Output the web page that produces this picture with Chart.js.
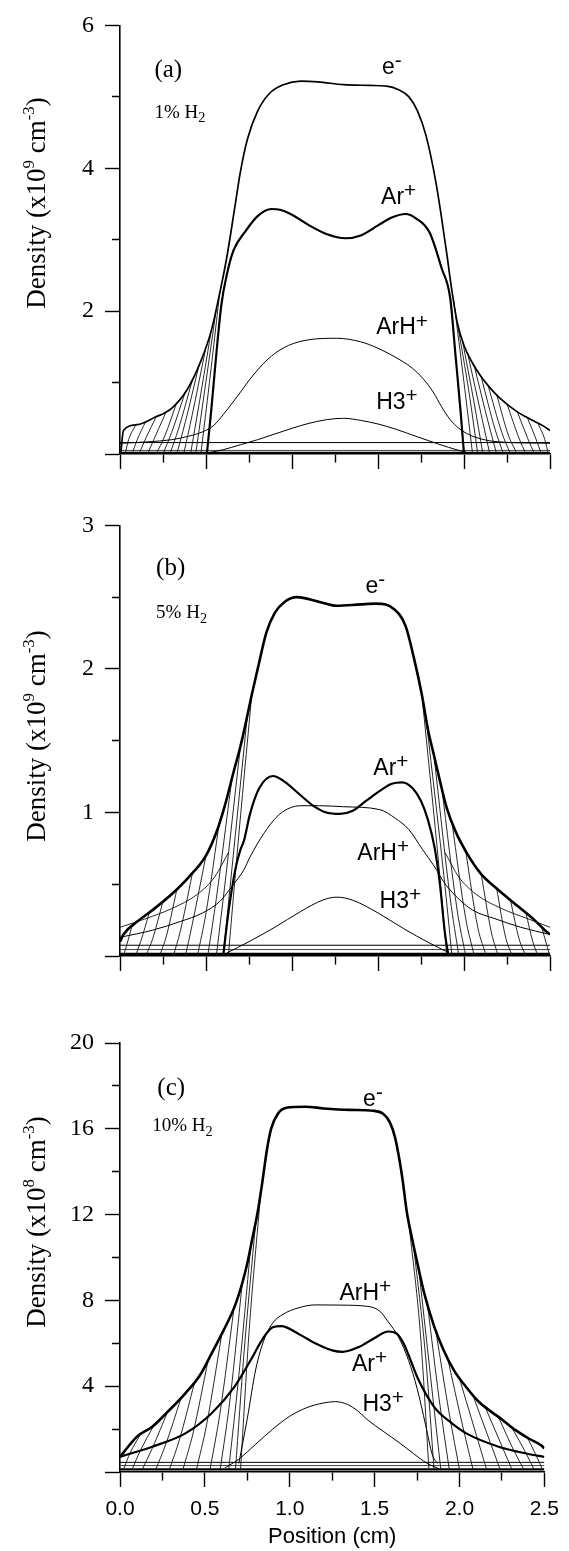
<!DOCTYPE html>
<html>
<head>
<meta charset="utf-8">
<script src="https://cdn.jsdelivr.net/npm/chart.js@4.4.1/dist/chart.umd.min.js"></script>
<style>
  html, body { margin:0; padding:0; background:#fff; }
  body { width:569px; height:1551px; position:relative; overflow:hidden; }
  .panel { position:absolute; left:0; width:569px; }
  canvas { display:block; }
</style>
</head>
<body>
<div class="panel" style="top:0;height:500px"><canvas id="chartA" width="569" height="500"></canvas></div>
<div class="panel" style="top:500px;height:510px"><canvas id="chartB" width="569" height="510"></canvas></div>
<div class="panel" style="top:1010px;height:541px"><canvas id="chartC" width="569" height="541"></canvas></div>
<script>
// ---- axis ticks ----
const xTicks = [0, 0.25, 0.5, 0.75, 1, 1.25, 1.5, 1.75, 2, 2.25, 2.5]
const xTickLabelsC = ['0.0', '', '0.5', '', '1.0', '', '1.5', '', '2.0', '', '2.5']
const xTickLabelsBlank = ['', '', '', '', '', '', '', '', '', '', '']

const yTicksA = [0, 1, 2, 3, 4, 5, 6]
const yTickLabelsA = ['', '', '2', '', '4', '', '6']
const yTicksB = [0, 0.5, 1, 1.5, 2, 2.5, 3]
const yTickLabelsB = ['', '', '1', '', '2', '', '3']
const yTicksC = [0, 2, 4, 6, 8, 10, 12, 14, 16, 18, 20]
const yTickLabelsC = ['', '', '4', '', '8', '', '12', '', '16', '', '20']

// ---- (a) 1% H2, density x1e9 cm^-3, points are [position cm, density] ----
const electronA = [[0.005,0.02],[0.02,0.33],[0.1,0.41],[0.2,0.51],[0.3,0.64],[0.39,0.9],[0.47,1.3],[0.53,1.72],[0.57,2.14],[0.62,2.74],[0.666,3.43],[0.7,3.95],[0.74,4.4],[0.8,4.8],[0.87,5.05],[0.95,5.17],[1.05,5.22],[1.15,5.21],[1.3,5.17],[1.45,5.16],[1.55,5.15],[1.62,5.1],[1.68,5.0],[1.73,4.8],[1.78,4.45],[1.837,3.8],[1.87,3.3],[1.9,2.8],[1.93,2.28],[1.96,1.85],[2.0,1.52],[2.05,1.27],[2.1,1.08],[2.15,0.93],[2.21,0.78],[2.31,0.59],[2.4,0.47],[2.47,0.38],[2.5,0.33]]
const arPlusA = [[0.505,0.0],[0.53,0.6],[0.56,1.4],[0.59,2.1],[0.62,2.5],[0.66,2.85],[0.73,3.12],[0.8,3.33],[0.88,3.43],[0.93,3.42],[1.0,3.35],[1.1,3.2],[1.2,3.08],[1.31,3.02],[1.4,3.06],[1.5,3.2],[1.58,3.31],[1.66,3.36],[1.72,3.3],[1.8,3.1],[1.87,2.6],[1.92,2.18],[1.95,1.4],[1.98,0.6],[2.0,0.0]]
const arhPlusA = [[0.0,0.15],[0.16,0.17],[0.3,0.2],[0.4,0.25],[0.48,0.31],[0.545,0.4],[0.6,0.55],[0.68,0.8],[0.78,1.12],[0.88,1.37],[0.98,1.52],[1.1,1.6],[1.26,1.62],[1.4,1.57],[1.5,1.48],[1.64,1.3],[1.7,1.2],[1.76,1.06],[1.82,0.87],[1.87,0.66],[1.92,0.48],[1.97,0.36],[2.03,0.27],[2.1,0.21],[2.2,0.17],[2.5,0.15]]
const h3PlusA = [[0.52,0.02],[0.6,0.06],[0.7,0.13],[0.8,0.2],[0.9,0.28],[1.0,0.36],[1.1,0.43],[1.2,0.48],[1.3,0.5],[1.4,0.47],[1.5,0.42],[1.6,0.35],[1.73,0.24],[1.85,0.14],[1.97,0.05],[2.02,0.02]]
const flatA = [[[0,0.16],[2.5,0.16]], [[0,0.05],[2.5,0.05]], [[0,0.015],[2.5,0.015]]]
const fanLeftA = [
  [[0.03,0],[0.05,0.2],[0.09,0.4]],
  [[0.07,0],[0.1,0.2],[0.15,0.46]],
  [[0.11,0],[0.15,0.22],[0.21,0.52]],
  [[0.16,0],[0.2,0.22],[0.27,0.6]],
  [[0.21,0],[0.26,0.25],[0.33,0.72]],
  [[0.25,0],[0.3,0.3],[0.38,0.87]],
  [[0.29,0],[0.34,0.35],[0.42,1.03]],
  [[0.33,0],[0.38,0.45],[0.46,1.25]],
  [[0.37,0],[0.42,0.55],[0.5,1.5]],
  [[0.41,0],[0.46,0.7],[0.53,1.72]],
  [[0.44,0],[0.49,0.85],[0.56,2.03]],
  [[0.47,0],[0.52,1.0],[0.58,2.26]]
]
const fanRightA = [
  [[1.94,2.15],[2.0,1.0],[2.05,0]],
  [[1.96,1.85],[2.03,0.85],[2.08,0]],
  [[1.99,1.6],[2.06,0.7],[2.11,0]],
  [[2.02,1.42],[2.1,0.55],[2.15,0]],
  [[2.06,1.23],[2.14,0.45],[2.19,0]],
  [[2.1,1.08],[2.18,0.35],[2.23,0]],
  [[2.14,0.96],[2.22,0.3],[2.27,0]],
  [[2.19,0.83],[2.26,0.25],[2.31,0]],
  [[2.25,0.7],[2.32,0.22],[2.36,0]],
  [[2.31,0.59],[2.37,0.22],[2.41,0]],
  [[2.37,0.5],[2.42,0.2],[2.45,0]],
  [[2.43,0.43],[2.47,0.2],[2.49,0]]
]

// ---- (b) 5% H2, density x1e9 cm^-3 ----
const electronB = [[0.0,0.1],[0.02,0.15],[0.1,0.24],[0.2,0.33],[0.3,0.43],[0.4,0.55],[0.5,0.7],[0.56,0.86],[0.61,1.05],[0.66,1.28],[0.7,1.46],[0.727,1.6],[0.766,1.82],[0.81,2.05],[0.85,2.25],[0.9,2.39],[0.96,2.47],[1.03,2.5],[1.15,2.47],[1.26,2.44],[1.4,2.45],[1.49,2.455],[1.59,2.42],[1.66,2.3],[1.71,2.07],[1.755,1.82],[1.79,1.58],[1.825,1.4],[1.86,1.22],[1.9,1.03],[1.95,0.87],[2.02,0.71],[2.1,0.57],[2.2,0.46],[2.29,0.37],[2.41,0.25],[2.47,0.18],[2.5,0.15]]
const arPlusB = [[0.6,0.0],[0.63,0.3],[0.67,0.6],[0.7,0.74],[0.72,0.8],[0.756,0.99],[0.81,1.17],[0.89,1.254],[0.95,1.22],[1.05,1.12],[1.12,1.05],[1.2,1.0],[1.28,0.99],[1.35,1.01],[1.43,1.08],[1.51,1.15],[1.58,1.2],[1.64,1.21],[1.7,1.17],[1.75,1.08],[1.79,0.95],[1.83,0.75],[1.86,0.5],[1.89,0.15],[1.91,0.0]]
const arhPlusB = [[0.0,0.13],[0.19,0.18],[0.35,0.24],[0.48,0.3],[0.58,0.38],[0.66,0.5],[0.72,0.6],[0.756,0.69],[0.84,0.86],[0.93,0.99],[1.05,1.047],[1.16,1.047],[1.3,1.04],[1.51,1.02],[1.6,0.96],[1.68,0.88],[1.76,0.74],[1.83,0.62],[1.88,0.52],[1.95,0.42],[2.05,0.32],[2.18,0.26],[2.33,0.2],[2.5,0.15]]
const h3PlusB = [[0.62,0.02],[0.75,0.1],[0.9,0.2],[1.05,0.31],[1.18,0.39],[1.26,0.41],[1.35,0.39],[1.5,0.3],[1.65,0.19],[1.8,0.09],[1.9,0.03]]
const tailB = [
  [[0.0,0.2],[0.15,0.26],[0.3,0.33],[0.45,0.43],[0.55,0.55],[0.63,0.72]],
  [[1.89,0.72],[1.97,0.55],[2.07,0.43],[2.22,0.33],[2.37,0.26],[2.5,0.2]]
]
const flatB = [[[0,0.075],[2.5,0.075]], [[0,0.045],[2.5,0.045]], [[0,0.015],[2.5,0.015]]]
const fanLeftB = [
  [[0.02,0],[0.04,0.08],[0.07,0.21]],
  [[0.09,0],[0.12,0.1],[0.17,0.3]],
  [[0.15,0],[0.19,0.12],[0.25,0.38]],
  [[0.23,0],[0.27,0.14],[0.33,0.46]],
  [[0.31,0],[0.35,0.17],[0.42,0.57]],
  [[0.38,0],[0.42,0.22],[0.5,0.7]],
  [[0.45,0],[0.5,0.3],[0.58,0.95]],
  [[0.51,0],[0.56,0.4],[0.65,1.23]],
  [[0.56,0],[0.61,0.5],[0.7,1.46]],
  [[0.6,0],[0.65,0.6],[0.74,1.67]],
  [[0.63,0],[0.68,0.7],[0.766,1.82]]
]
const fanRightB = [
  [[1.755,1.82],[1.86,0.55],[1.9,0]],
  [[1.78,1.65],[1.89,0.48],[1.93,0]],
  [[1.825,1.4],[1.92,0.4],[1.97,0]],
  [[1.87,1.18],[1.96,0.32],[2.01,0]],
  [[1.93,0.93],[2.01,0.26],[2.06,0]],
  [[2.01,0.73],[2.08,0.2],[2.13,0]],
  [[2.1,0.57],[2.16,0.16],[2.2,0]],
  [[2.19,0.47],[2.24,0.14],[2.28,0]],
  [[2.27,0.39],[2.32,0.12],[2.36,0]],
  [[2.36,0.3],[2.4,0.1],[2.43,0]],
  [[2.45,0.21],[2.48,0.08],[2.5,0]]
]

// ---- (c) 10% H2, density x1e8 cm^-3 ----
const electronC = [[0.0,0.7],[0.05,1.2],[0.1,1.65],[0.19,2.11],[0.28,2.8],[0.385,3.67],[0.47,4.5],[0.54,5.53],[0.61,6.6],[0.675,7.71],[0.72,8.8],[0.75,9.73],[0.78,10.9],[0.81,12.07],[0.84,13.6],[0.865,15.0],[0.89,16.0],[0.93,16.7],[0.98,16.98],[1.09,17.03],[1.2,16.95],[1.35,16.88],[1.49,16.84],[1.55,16.7],[1.59,16.3],[1.62,15.6],[1.645,14.6],[1.665,13.6],[1.69,12.1],[1.72,10.9],[1.75,9.8],[1.79,8.4],[1.85,6.8],[1.905,5.7],[1.97,4.7],[2.04,3.95],[2.11,3.3],[2.18,2.85],[2.25,2.45],[2.33,1.95],[2.41,1.55],[2.48,1.25],[2.5,1.1]]
const arPlusC = [[0.0,0.71],[0.19,1.18],[0.385,1.8],[0.54,2.74],[0.675,3.98],[0.77,5.22],[0.84,6.2],[0.9,6.75],[0.95,6.8],[1.05,6.45],[1.15,6.0],[1.25,5.67],[1.31,5.6],[1.4,5.8],[1.5,6.25],[1.58,6.55],[1.63,6.45],[1.67,6.0],[1.71,5.25],[1.75,4.44],[1.85,3.04],[1.95,2.3],[2.04,1.8],[2.23,1.18],[2.4,0.85],[2.5,0.7]]
const arhPlusC = [[0.7,0.4],[0.75,2.5],[0.8,4.8],[0.85,6.2],[0.9,6.95],[0.96,7.35],[1.05,7.65],[1.15,7.79],[1.3,7.78],[1.46,7.72],[1.53,7.5],[1.58,7.0],[1.64,6.3],[1.7,5.2],[1.75,3.9],[1.8,2.2],[1.84,0.8],[1.87,0.4]]
const h3PlusC = [[0.62,0.2],[0.7,0.6],[0.8,1.3],[0.9,2.0],[1.0,2.6],[1.1,3.0],[1.2,3.22],[1.27,3.28],[1.34,3.15],[1.4,2.85],[1.46,2.42],[1.55,1.9],[1.65,1.34],[1.73,0.85],[1.81,0.4],[1.88,0.15]]
const flatC = [[[0,0.45],[2.5,0.45]], [[0,0.3],[2.5,0.3]], [[0,0.12],[2.5,0.12]]]
const fanLeftC = [
  [[0.02,0.1],[0.06,0.9],[0.12,1.75]],
  [[0.07,0.1],[0.12,1.0],[0.2,2.18]],
  [[0.13,0.1],[0.19,1.1],[0.28,2.8]],
  [[0.21,0.1],[0.27,1.3],[0.36,3.45]],
  [[0.29,0.1],[0.35,1.5],[0.44,4.2]],
  [[0.37,0.1],[0.43,1.8],[0.52,5.25]],
  [[0.45,0.1],[0.51,2.2],[0.6,6.45]],
  [[0.53,0.1],[0.59,2.8],[0.67,7.55]],
  [[0.59,0.1],[0.65,3.5],[0.72,8.8]],
  [[0.64,0.1],[0.7,4.5],[0.77,10.5]],
  [[0.68,0.1],[0.73,5.5],[0.8,11.7]],
  [[0.71,0.1],[0.76,6.5],[0.83,13.1]]
]
const fanRightC = [
  [[1.7,11.7],[1.77,6.4],[1.82,0.1]],
  [[1.73,10.5],[1.8,5.4],[1.85,0.1]],
  [[1.76,9.45],[1.83,4.4],[1.89,0.1]],
  [[1.81,7.9],[1.88,3.4],[1.94,0.1]],
  [[1.86,6.6],[1.94,2.7],[2.0,0.1]],
  [[1.93,5.3],[2.02,2.1],[2.08,0.1]],
  [[2.0,4.35],[2.1,1.7],[2.16,0.1]],
  [[2.08,3.55],[2.18,1.4],[2.24,0.1]],
  [[2.15,3.05],[2.25,1.2],[2.31,0.1]],
  [[2.23,2.55],[2.32,1.0],[2.38,0.1]],
  [[2.31,2.05],[2.39,0.9],[2.44,0.1]],
  [[2.4,1.6],[2.45,0.8],[2.49,0.1]]
]

// ---- labels: [text, position, density, style] ----
const notesA = [['(a)', 0.2, 5.4, 'tag'], ['1% H_2', 0.2, 4.8, 'gas'], ['e^-', 1.58, 5.44, 'ion'], ['Ar^+', 1.62, 3.62, 'ion'], ['ArH^+', 1.64, 1.79, 'ion'], ['H3^+', 1.61, 0.75, 'ion']]
const notesB = [['(b)', 0.21, 2.72, 'tag'], ['5% H_2', 0.21, 2.4, 'gas'], ['e^-', 1.485, 2.59, 'ion'], ['Ar^+', 1.575, 1.32, 'ion'], ['ArH^+', 1.53, 0.73, 'ion'], ['H3^+', 1.63, 0.39, 'ion']]
const notesC = [['(c)', 0.22, 18.0, 'tag'], ['10% H_2', 0.19, 16.2, 'gas'], ['e^-', 1.49, 17.44, 'ion'], ['ArH^+', 1.445, 8.4, 'ion'], ['Ar^+', 1.47, 5.1, 'ion'], ['H3^+', 1.55, 3.25, 'ion']]

const SERIF = '"Liberation Serif", "DejaVu Serif", serif'
const SANS = '"Liberation Sans", Arial, sans-serif'
const TEXT_STYLES = {
  axis: {size: 27, family: SERIF, supScale: 0.62, supRise: 0.42},
  tag:  {size: 25, family: SERIF},
  gas:  {size: 19, family: SERIF, subScale: 0.75, subDrop: 0.22},
  ion:  {size: 23, family: SANS, supScale: 0.9, supRise: 0.3}
}

function parseRich(str){
  const parts = []
  let i = 0
  while(i < str.length){
    const c = str[i]
    if(c === '^' || c === '_'){
      let t
      if(str[i+1] === '{'){ const j = str.indexOf('}', i); t = str.slice(i+2, j); i = j + 1 }
      else { t = str[i+1]; i += 2 }
      parts.push({t: t, mode: c === '^' ? 'sup' : 'sub'})
    } else {
      let j = i
      while(j < str.length && str[j] !== '^' && str[j] !== '_') j++
      parts.push({t: str.slice(i, j), mode: 'normal'})
      i = j
    }
  }
  return parts
}

function drawRich(ctx, str, x, y, st, align){
  const parts = parseRich(str)
  const sizeOf = p => p.mode === 'sup' ? st.size * st.supScale : p.mode === 'sub' ? st.size * st.subScale : st.size
  let w = 0
  parts.forEach(p => { ctx.font = sizeOf(p) + 'px ' + st.family; p.w = ctx.measureText(p.t).width; w += p.w })
  let cx = align === 'center' ? x - w / 2 : x
  parts.forEach(p => {
    ctx.font = sizeOf(p) + 'px ' + st.family
    const dy = p.mode === 'sup' ? -st.size * st.supRise : p.mode === 'sub' ? st.size * st.subDrop : 0
    ctx.fillText(p.t, cx, y + dy)
    cx += p.w
  })
}

function textPlugin(title, titleY, notes){
  return {
    id: 'panelText',
    afterDraw(chart){
      const ctx = chart.ctx
      const xs = chart.scales.x, ys = chart.scales.y
      ctx.save()
      ctx.fillStyle = '#000'
      ctx.textBaseline = 'alphabetic'
      ctx.textAlign = 'left'
      ctx.save()
      ctx.translate(45, titleY)
      ctx.rotate(-Math.PI / 2)
      drawRich(ctx, title, 0, 0, TEXT_STYLES.axis, 'center')
      ctx.restore()
      notes.forEach(n => {
        const st = TEXT_STYLES[n[3]]
        const px = xs.getPixelForValue(n[1])
        const py = ys.getPixelForValue(n[2])
        drawRich(ctx, n[0], px, py + st.size * 0.36, st, n[3] === 'ion' ? 'center' : 'left')
      })
      ctx.restore()
    }
  }
}

function line(points, width, color){
  return {
    data: points.map(p => ({x: p[0], y: p[1]})),
    borderColor: color || '#000',
    borderWidth: width,
    pointRadius: 0,
    fill: false,
    cubicInterpolationMode: 'monotone'
  }
}

function buildDatasets(s){
  const ds = []
  ds.push(line(s.electron, s.eWidth))
  ds.push(line(s.arPlus, 2.2))
  ds.push(line(s.arhPlus, 1))
  ds.push(line(s.h3Plus, 1))
  s.fanLeft.forEach(f => ds.push(line(f, 0.9, '#111')))
  s.fanRight.forEach(f => ds.push(line(f, 0.9, '#111')))
  ;(s.tail || []).forEach(f => ds.push(line(f, 0.9, '#111')))
  s.flat.forEach((f, i) => ds.push(line(f, i === s.flat.length - 1 ? 2.2 : 1, i === 1 ? '#444' : '#000')))
  return ds
}

function makePanel(id, s){
  const isMajor = c => c.index % 2 === 0
  new Chart(document.getElementById(id), {
    type: 'line',
    data: {datasets: buildDatasets(s)},
    options: {
      responsive: false,
      animation: false,
      events: [],
      layout: {padding: {top: s.top, right: 19, left: 0, bottom: 0}},
      plugins: {legend: {display: false}, tooltip: {enabled: false}},
      scales: {
        x: {
          type: 'linear', position: 'bottom', min: 0, max: 2.5,
          afterBuildTicks: sc => { sc.ticks = xTicks.map(v => ({value: v})) },
          afterFit: sc => { sc.height = s.xHeight },
          border: {display: true, color: '#000', width: 1.6},
          grid: {
            display: true, drawOnChartArea: false, drawTicks: true, tickLength: 15,
            tickColor: '#000', tickWidth: 1.4,
            tickBorderDash: c => isMajor(c) ? [] : [8, 100]
          },
          ticks: {
            autoSkip: false, maxRotation: 0, padding: 10, color: '#000',
            font: {family: SANS, size: 21},
            callback: (v, i) => s.xLabels[i]
          },
          title: {
            display: !!s.xTitle, text: s.xTitle || '', color: '#000',
            font: {family: SANS, size: 22}, padding: {top: 0, bottom: 1}
          }
        },
        y: {
          type: 'linear', position: 'left', min: 0, max: s.yMax,
          afterBuildTicks: sc => { sc.ticks = s.yTicks.map(v => ({value: v})) },
          afterFit: sc => { sc.width = 120 },
          border: {display: true, color: '#000', width: 1.6},
          grid: {
            display: true, drawOnChartArea: false, drawTicks: true, tickLength: 15,
            tickColor: '#000', tickWidth: 1.4,
            tickBorderDash: c => isMajor(c) ? [] : [0, 7, 8, 100]
          },
          ticks: {
            autoSkip: false, padding: 11, color: '#000',
            font: {family: SERIF, size: 24},
            callback: (v, i) => s.yLabels[i]
          }
        }
      }
    },
    plugins: [textPlugin(s.title, s.titleY, s.notes)]
  })
}

makePanel('chartA', {
  electron: electronA, arPlus: arPlusA, arhPlus: arhPlusA, h3Plus: h3PlusA,
  fanLeft: fanLeftA, fanRight: fanRightA, flat: flatA, eWidth: 1.7,
  top: 22, xHeight: 46, yMax: 6, yTicks: yTicksA, yLabels: yTickLabelsA,
  xLabels: xTickLabelsBlank, title: 'Density (x10^9 cm^{-3})', titleY: 203, notes: notesA
})
makePanel('chartB', {
  electron: electronB, arPlus: arPlusB, arhPlus: arhPlusB, h3Plus: h3PlusB,
  fanLeft: fanLeftB, fanRight: fanRightB, tail: tailB, flat: flatB, eWidth: 2.6,
  top: 23, xHeight: 54, yMax: 3, yTicks: yTicksB, yLabels: yTickLabelsB,
  xLabels: xTickLabelsBlank, title: 'Density (x10^9 cm^{-3})', titleY: 236, notes: notesB
})
makePanel('chartC', {
  electron: electronC, arPlus: arPlusC, arhPlus: arhPlusC, h3Plus: h3PlusC,
  fanLeft: fanLeftC, fanRight: fanRightC, flat: flatC, eWidth: 2.6,
  top: 33, xHeight: 79, yMax: 20, yTicks: yTicksC, yLabels: yTickLabelsC,
  xLabels: xTickLabelsC, xTitle: 'Position (cm)', title: 'Density (x10^8 cm^{-3})', titleY: 212, notes: notesC
})
</script>
</body>
</html>
